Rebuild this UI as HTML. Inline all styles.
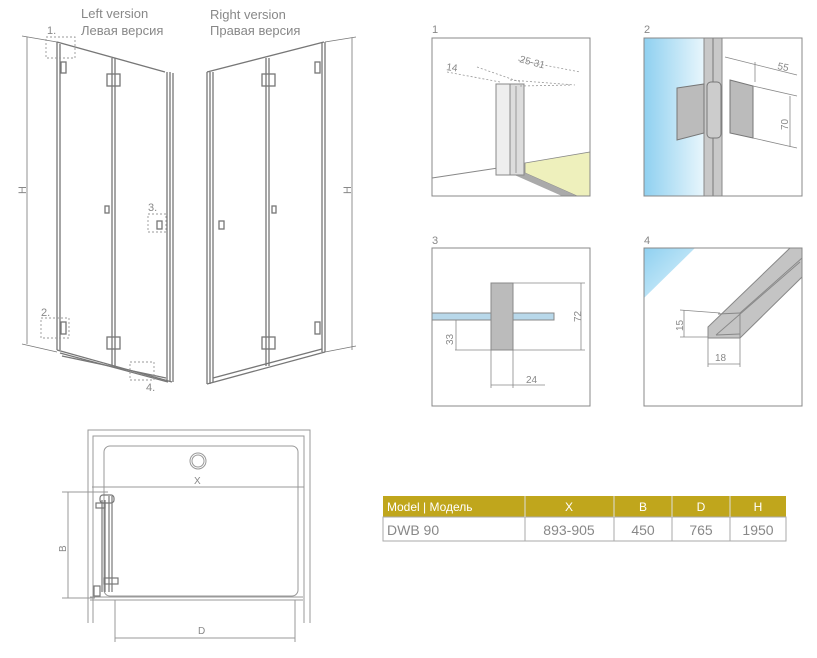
<!DOCTYPE html>
<html><head><meta charset="utf-8"><style>
html,body{margin:0;padding:0;background:#fff;width:817px;height:658px;overflow:hidden}
svg{display:block}
text{font-family:"Liberation Sans",sans-serif;fill:#888}
</style></head><body>
<svg width="817" height="658" viewBox="0 0 817 658" xmlns="http://www.w3.org/2000/svg">
<defs>
<linearGradient id="blue" x1="0" x2="1" y1="0" y2="0"><stop offset="0" stop-color="#8fd0f0"/><stop offset="1" stop-color="#e8f6fc"/></linearGradient>
<linearGradient id="blue2" x1="0" x2="1" y1="0" y2="1"><stop offset="0" stop-color="#8fd0f0"/><stop offset="1" stop-color="#e0f4fc"/></linearGradient>
</defs>
<text x="81" y="18" font-size="13">Left version</text>
<text x="81" y="35" font-size="13">Левая версия</text>
<text x="210" y="19" font-size="13">Right version</text>
<text x="210" y="35" font-size="13">Правая версия</text>

<g fill="none" stroke="#777" stroke-width="1.3">
<line x1="57" y1="42" x2="165" y2="72"/>
<line x1="57" y1="42" x2="57" y2="350"/><line x1="60" y1="44" x2="60" y2="350"/>
<line x1="57" y1="350" x2="172" y2="382"/><line x1="60" y1="353" x2="168" y2="382"/><line x1="62" y1="356" x2="166" y2="378"/>
<line x1="167" y1="72" x2="167" y2="382"/><line x1="170" y1="72" x2="170" y2="382"/><line x1="173" y1="73" x2="173" y2="382"/>
<line x1="112" y1="58" x2="112" y2="366"/><line x1="115" y1="58" x2="115" y2="366"/>
<rect x="107" y="74" width="13" height="12"/><rect x="107" y="337" width="13" height="12"/>
<rect x="61" y="62" width="5" height="11"/><rect x="61" y="322" width="5" height="12"/>
<rect x="105" y="206" width="4" height="7"/><rect x="157" y="221" width="5" height="8"/>
<line x1="27" y1="37" x2="27" y2="344" stroke-width="0.8"/>
<line x1="22" y1="36" x2="57" y2="42" stroke-width="0.8"/><line x1="22" y1="344" x2="57" y2="352" stroke-width="0.8"/>
<line x1="207" y1="72" x2="324" y2="42"/>
<line x1="207" y1="72" x2="207" y2="384"/><line x1="210" y1="72" x2="210" y2="384"/><line x1="213" y1="72" x2="213" y2="382"/>
<line x1="322" y1="42" x2="322" y2="352"/><line x1="325" y1="42" x2="325" y2="352"/>
<line x1="207" y1="384" x2="325" y2="352"/><line x1="213" y1="378" x2="322" y2="349"/>
<line x1="266" y1="58" x2="266" y2="366"/><line x1="269" y1="58" x2="269" y2="366"/>
<rect x="262" y="74" width="13" height="12"/><rect x="262" y="337" width="13" height="12"/>
<rect x="315" y="62" width="5" height="11"/><rect x="315" y="322" width="5" height="12"/>
<rect x="272" y="206" width="4" height="7"/><rect x="219" y="221" width="5" height="8"/>
<line x1="352" y1="38" x2="352" y2="350" stroke-width="0.8"/>
<line x1="325" y1="42" x2="356" y2="37" stroke-width="0.8"/><line x1="325" y1="352" x2="356" y2="346" stroke-width="0.8"/>
</g>
<g fill="none" stroke="#999" stroke-width="0.9" stroke-dasharray="2,2">
<rect x="46" y="37" width="29" height="21"/><rect x="41" y="318" width="28" height="20"/>
<rect x="148" y="214" width="18" height="18"/><rect x="130" y="362" width="24" height="18"/>
</g>
<text x="47" y="34" font-size="11">1.</text><text x="41" y="316" font-size="11">2.</text>
<text x="148" y="211" font-size="11">3.</text><text x="146" y="391" font-size="11">4.</text>
<text x="0" y="0" font-size="11" transform="translate(26,194) rotate(-90)">H</text>
<text x="0" y="0" font-size="11" transform="translate(351,194) rotate(-90)">H</text>

<text x="432" y="33" font-size="11">1</text><text x="644" y="33" font-size="11">2</text>
<text x="432" y="244" font-size="11">3</text><text x="644" y="244" font-size="11">4</text>
<!-- panel1 -->
<polygon points="525,163 590,152 590,196 577,196 525,173" fill="#eef0bc" stroke="#888" stroke-width="0.8"/>
<polygon points="510,173 525,173 577,196 562,196" fill="#aaa"/>
<line x1="432" y1="178" x2="498" y2="168" stroke="#888"/>
<rect x="496" y="84" width="14" height="91" fill="#eee" stroke="#888"/>
<rect x="510" y="84" width="14" height="91" fill="#ddd" stroke="#888"/>
<line x1="516" y1="86" x2="516" y2="173" stroke="#999"/>
<g stroke="#999" stroke-dasharray="2,2" fill="none" stroke-width="0.8"><line x1="447" y1="72" x2="500" y2="82"/><line x1="477" y1="67" x2="520" y2="82"/><line x1="510" y1="80" x2="575" y2="85"/><line x1="520" y1="86" x2="572" y2="85"/><line x1="518" y1="60" x2="580" y2="72"/></g>
<text x="446" y="70" font-size="10" transform="rotate(8 446 70)">14</text>
<text x="519" y="62" font-size="10" transform="rotate(15 519 62)">25-31</text>
<rect x="432" y="38" width="158" height="158" fill="none" stroke="#888"/>
<!-- panel2 -->
<rect x="644" y="38" width="60" height="158" fill="url(#blue)"/>
<rect x="704" y="38" width="18" height="158" fill="#c8c8c8" stroke="#888"/>
<line x1="713" y1="38" x2="713" y2="196" stroke="#777"/>
<polygon points="677,88 704,84 704,133 677,140" fill="#bbb" stroke="#777"/>
<rect x="707" y="82" width="14" height="56" rx="4" fill="#ccc" stroke="#777"/>
<polygon points="730,80 753,86 753,138 730,133" fill="#bbb" stroke="#777"/>
<g stroke="#888" stroke-width="0.8" fill="none"><line x1="725" y1="57" x2="797" y2="75"/><line x1="753" y1="86" x2="797" y2="96"/><line x1="753" y1="138" x2="797" y2="148"/><line x1="790" y1="96" x2="790" y2="147"/><line x1="755" y1="62" x2="755" y2="82"/></g>
<text x="777" y="69" font-size="10" transform="rotate(12 777 69)">55</text>
<text x="0" y="0" font-size="10" transform="translate(788,130) rotate(-90)">70</text>
<rect x="644" y="38" width="158" height="158" fill="none" stroke="#888"/>
<!-- panel3 -->
<rect x="432" y="313" width="122" height="7" fill="#b8d8ea" stroke="#888"/>
<rect x="491" y="283" width="22" height="67" fill="#bbb" stroke="#888"/>
<g stroke="#888" stroke-width="0.8" fill="none"><line x1="513" y1="283" x2="585" y2="283"/><line x1="455" y1="350" x2="585" y2="350"/><line x1="581" y1="283" x2="581" y2="350"/><line x1="456" y1="320" x2="456" y2="350"/><line x1="491" y1="350" x2="491" y2="388"/><line x1="513" y1="350" x2="513" y2="388"/><line x1="491" y1="385" x2="545" y2="385"/></g>
<text x="0" y="0" font-size="10" transform="translate(581,322) rotate(-90)">72</text>
<text x="0" y="0" font-size="10" transform="translate(453,345) rotate(-90)">33</text>
<text x="526" y="383" font-size="10">24</text>
<rect x="432" y="248" width="158" height="158" fill="none" stroke="#888"/>
<!-- panel4 -->
<polygon points="644,248 695,248 644,298" fill="url(#blue2)"/>
<polygon points="708,327 790,248 802,248 802,277 740,338 708,338" fill="#c4c4c4" stroke="#888"/>
<g stroke="#888" fill="none" stroke-width="0.9">
<line x1="740" y1="313" x2="802" y2="258"/><line x1="740" y1="313" x2="740" y2="338"/>
<line x1="718" y1="314" x2="740" y2="313"/><line x1="716" y1="335" x2="800" y2="262"/>
<line x1="716" y1="335" x2="740" y2="334"/>
</g>
<g stroke="#888" stroke-width="0.8" fill="none"><line x1="680" y1="310" x2="720" y2="313"/><line x1="680" y1="337" x2="708" y2="337"/><line x1="684" y1="310" x2="684" y2="337"/><line x1="708" y1="338" x2="708" y2="367"/><line x1="740" y1="338" x2="740" y2="367"/><line x1="708" y1="364" x2="740" y2="364"/></g>
<text x="0" y="0" font-size="10" transform="translate(683,331) rotate(-90)">15</text>
<text x="715" y="361" font-size="10">18</text>
<rect x="644" y="248" width="158" height="158" fill="none" stroke="#888"/>

<!-- PLAN -->
<g fill="none" stroke="#999" stroke-width="1">
<path d="M88,623 V430 H310 V623 M93,623 V436 H304 V623"/>
<rect x="104" y="446" width="194" height="150" rx="6"/>
<circle cx="198" cy="461" r="8"/><circle cx="198" cy="461" r="6"/>
<line x1="92" y1="487" x2="304" y2="487"/>
<line x1="90" y1="597" x2="303" y2="597"/><line x1="90" y1="600" x2="303" y2="600"/>
<line x1="68" y1="492" x2="68" y2="598"/><line x1="62" y1="492" x2="108" y2="492"/><line x1="62" y1="598" x2="95" y2="598"/>
<line x1="115" y1="600" x2="115" y2="642"/><line x1="295" y1="600" x2="295" y2="642"/><line x1="115" y1="638" x2="295" y2="638"/>
</g>
<g fill="none" stroke="#777" stroke-width="1.2">
<line x1="102" y1="500" x2="102" y2="592"/><line x1="105" y1="500" x2="105" y2="592"/>
<line x1="109" y1="496" x2="109" y2="592"/><line x1="112" y1="496" x2="112" y2="592"/>
<rect x="100" y="495" width="14" height="8" rx="3"/>
<rect x="96" y="503" width="9" height="5"/><rect x="104" y="578" width="14" height="6"/>
<rect x="94" y="586" width="6" height="10"/>
</g>
<text x="194" y="484" font-size="10">X</text>
<text x="0" y="0" font-size="10" transform="translate(66,552) rotate(-90)">B</text>
<text x="198" y="634" font-size="10">D</text>

<!-- TABLE -->
<rect x="383" y="496" width="403" height="21" fill="#c0a61c"/>
<rect x="383" y="517" width="403" height="24" fill="#fff" stroke="#aaa"/>
<g stroke="#ddd" stroke-width="1"><line x1="525" y1="496" x2="525" y2="517"/><line x1="614" y1="496" x2="614" y2="517"/><line x1="672" y1="496" x2="672" y2="517"/><line x1="730" y1="496" x2="730" y2="517"/></g>
<g stroke="#aaa" stroke-width="1"><line x1="525" y1="517" x2="525" y2="541"/><line x1="614" y1="517" x2="614" y2="541"/><line x1="672" y1="517" x2="672" y2="541"/><line x1="730" y1="517" x2="730" y2="541"/></g>
<g font-size="12">
<text x="387" y="511" style="fill:#fff">Model | Модель</text>
<text x="569" y="511" text-anchor="middle" style="fill:#fff">X</text>
<text x="643" y="511" text-anchor="middle" style="fill:#fff">B</text>
<text x="701" y="511" text-anchor="middle" style="fill:#fff">D</text>
<text x="758" y="511" text-anchor="middle" style="fill:#fff">H</text>
</g>
<g font-size="14">
<text x="387" y="535">DWB 90</text>
<text x="569" y="535" text-anchor="middle">893-905</text>
<text x="643" y="535" text-anchor="middle">450</text>
<text x="701" y="535" text-anchor="middle">765</text>
<text x="758" y="535" text-anchor="middle">1950</text>
</g>
</svg>
</body></html>
